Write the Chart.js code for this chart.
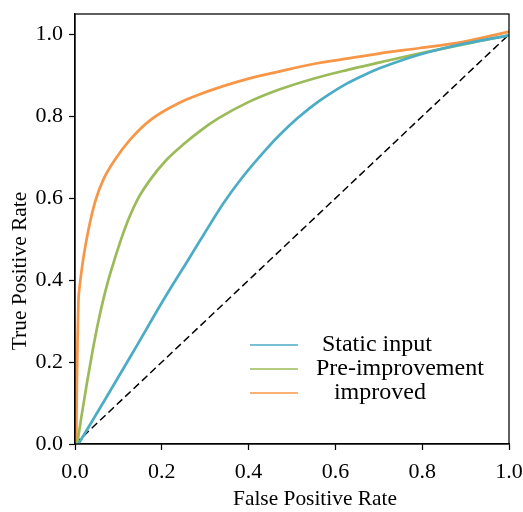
<!DOCTYPE html>
<html lang="en">
<head>
  <meta charset="UTF-8" />
  <title>ROC curves</title>
  <script src="https://cdn.jsdelivr.net/npm/chart.js"></script>
  <style>
    body { margin: 0; background: #ffffff; }
    .wrap { width: 523px; height: 512px; position: relative; }
  </style>
</head>
<body>
<div class="wrap"><canvas id="roc"></canvas></div>
<script>
  // tick values, same on both axes
  const axisTicks = [0, 0.2, 0.4, 0.6, 0.8, 1.0];

  // Static input
  const staticFpr = [0.008, 0.070, 0.138, 0.200, 0.261, 0.315, 0.342, 0.384, 0.445, 0.472, 0.511, 0.549, 0.587, 0.626, 0.664, 0.703, 0.750, 0.795, 0.845, 0.895, 1.0];
  const staticTpr = [0.0, 0.110, 0.232, 0.345, 0.450, 0.543, 0.588, 0.649, 0.725, 0.755, 0.794, 0.827, 0.855, 0.880, 0.900, 0.918, 0.936, 0.951, 0.965, 0.977, 0.998];

  // Pre-improvement
  const preFpr = [0.005, 0.015, 0.027, 0.040, 0.052, 0.065, 0.077, 0.091, 0.106, 0.123, 0.144, 0.173, 0.211, 0.250, 0.290, 0.330, 0.396, 0.472, 0.549, 0.626, 0.703, 0.795, 0.895, 1.0];
  const preTpr = [0.0, 0.068, 0.146, 0.224, 0.290, 0.352, 0.401, 0.450, 0.499, 0.548, 0.597, 0.645, 0.694, 0.732, 0.766, 0.795, 0.833, 0.866, 0.892, 0.913, 0.932, 0.954, 0.976, 0.998];

  // improved
  const impFpr = [0.003, 0.0035, 0.0045, 0.0058, 0.008, 0.010, 0.013, 0.019, 0.027, 0.036, 0.048, 0.065, 0.092, 0.127, 0.175, 0.242, 0.280, 0.319, 0.396, 0.472, 0.549, 0.626, 0.703, 0.795, 0.895, 1.0];
  const impTpr = [0.0, 0.070, 0.160, 0.250, 0.352, 0.378, 0.405, 0.452, 0.501, 0.548, 0.597, 0.645, 0.694, 0.743, 0.792, 0.834, 0.851, 0.866, 0.891, 0.910, 0.928, 0.941, 0.954, 0.967, 0.982, 1.007];

  // chance diagonal
  const chanceFpr = [0, 1];
  const chanceTpr = [0, 1];

  // leading spaces copy the way the legend text sits in the original
  const seriesLabels = ['  Static input', ' Pre-improvement', '    improved'];
  const seriesColors = ['#4bacc6', '#9bbb59', '#f79646'];

  const serif = "'Liberation Serif', 'Times New Roman', serif";
  Chart.defaults.font.family = serif;
  Chart.defaults.color = '#000000';

  function points(xs, ys) {
    return xs.map((x, i) => ({ x: x, y: ys[i] }));
  }

  function curve(label, color, xs, ys) {
    return {
      label: label,
      data: points(xs, ys),
      borderColor: color,
      backgroundColor: color,
      borderWidth: 2.7,
      pointRadius: 0,
      cubicInterpolationMode: 'monotone',
      fill: false
    };
  }

  // box around the plot (top and right spines)
  const framePlugin = {
    id: 'frame',
    afterDraw(chart) {
      const a = chart.chartArea, ctx = chart.ctx;
      ctx.save();
      ctx.strokeStyle = '#000';
      ctx.lineWidth = 1.25;
      ctx.strokeRect(a.left, a.top, a.right - a.left, a.bottom - a.top);
      ctx.restore();
    }
  };

  // axis titles sit a bit off centre in the original
  const titlePlugin = {
    id: 'axisTitles',
    afterDraw(chart) {
      const a = chart.chartArea, ctx = chart.ctx;
      ctx.save();
      ctx.fillStyle = '#000';
      ctx.font = '21.4px ' + serif;
      ctx.textAlign = 'center';
      ctx.textBaseline = 'alphabetic';
      ctx.fillText('False Positive Rate', (a.left + a.right) / 2 + 23, chart.height - 7);
      ctx.translate(26, (a.top + a.bottom) / 2 + 42);
      ctx.rotate(-Math.PI / 2);
      ctx.fillText('True Positive Rate', 0, 0);
      ctx.restore();
    }
  };

  // move the legend inside the plot, lower middle
  const legendSpot = {
    id: 'legendSpot',
    afterLayout(chart) {
      const lg = chart.legend, a = chart.chartArea;
      if (!lg) return;
      const w = lg.width, h = lg.height;
      lg.left = a.left + (a.right - a.left) * 0.403;
      lg.top = a.top + (a.bottom - a.top) * 0.742;
      lg.right = lg.left + w;
      lg.bottom = lg.top + h;
    }
  };

  const tickFont = { size: 22, family: serif };

  // drop the extra room Chart.js keeps for the end labels
  function noEdgePad(s) {
    s.paddingLeft = 0;
    s.paddingRight = 0;
    s.paddingTop = 0;
    s.paddingBottom = 0;
  }

  new Chart(document.getElementById('roc'), {
    type: 'line',
    data: {
      datasets: [
        curve(seriesLabels[0], seriesColors[0], staticFpr, staticTpr),
        curve(seriesLabels[1], seriesColors[1], preFpr, preTpr),
        curve(seriesLabels[2], seriesColors[2], impFpr, impTpr),
        {
          label: 'chance',
          data: points(chanceFpr, chanceTpr),
          borderColor: '#000000',
          borderWidth: 1.5,
          borderDash: [7.5, 4],
          pointRadius: 0,
          fill: false
        }
      ]
    },
    options: {
      responsive: true,
      maintainAspectRatio: false,
      animation: false,
      layout: { padding: { top: 14, right: 14, left: 0, bottom: 0 } },
      scales: {
        x: {
          type: 'linear',
          min: 0,
          max: 1,
          afterBuildTicks: s => { s.ticks = axisTicks.map(v => ({ value: v })); },
          afterFit: s => { s.height = 68; noEdgePad(s); },
          ticks: { font: tickFont, padding: 9, maxRotation: 0, callback: v => v.toFixed(1) },
          grid: { drawOnChartArea: false, drawTicks: true, tickLength: 6, color: '#000', tickWidth: 1.25 },
          border: { display: true, color: '#000', width: 1.25 }
        },
        y: {
          type: 'linear',
          min: 0,
          max: 1.05,
          afterBuildTicks: s => { s.ticks = axisTicks.map(v => ({ value: v })); },
          afterFit: s => { s.width = 75; noEdgePad(s); },
          ticks: { font: tickFont, padding: 6, callback: v => v.toFixed(1) },
          grid: { drawOnChartArea: false, drawTicks: true, tickLength: 6, color: '#000', tickWidth: 1.25 },
          border: { display: true, color: '#000', width: 1.25 }
        }
      },
      plugins: {
        tooltip: { enabled: false },
        legend: {
          position: 'chartArea',
          align: 'start',
          labels: {
            font: { size: 24, family: serif },
            color: '#000',
            usePointStyle: true,
            pointStyle: 'line',
            pointStyleWidth: 48,
            padding: 0,
            filter: item => item.datasetIndex < 3,
            generateLabels: chart => Chart.defaults.plugins.legend.labels.generateLabels(chart)
              .map(item => Object.assign(item, { lineWidth: 1.5 }))
          }
        }
      }
    },
    plugins: [framePlugin, titlePlugin, legendSpot]
  });
</script>
</body>
</html>
